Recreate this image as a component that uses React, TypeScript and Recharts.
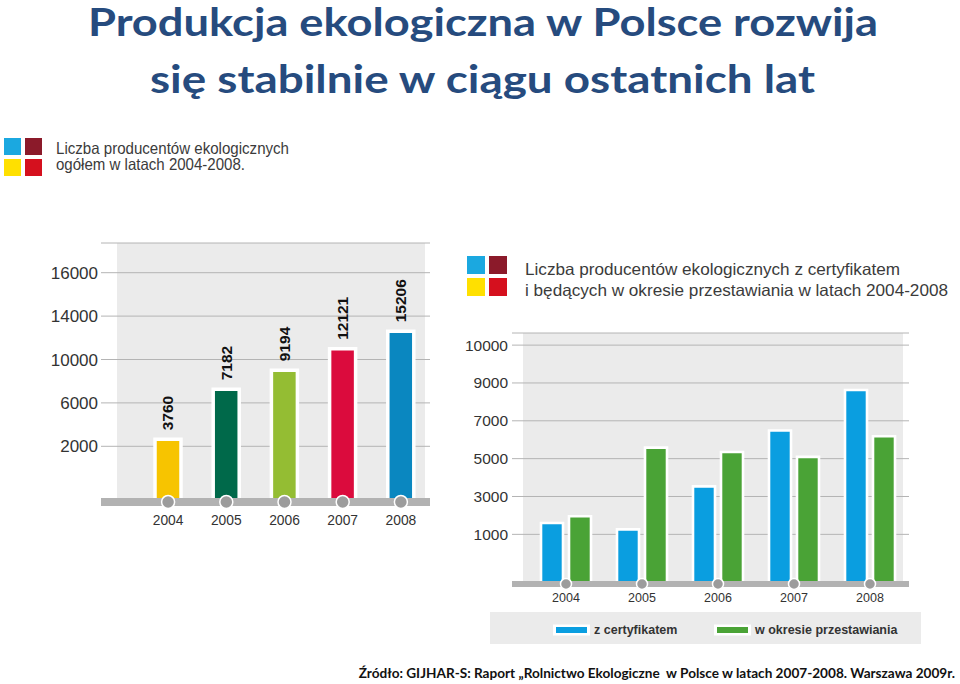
import React from 'react';
import { BarChart, Bar, XAxis, YAxis, CartesianGrid, Cell, LabelList } from 'recharts';

// values
const YEARS = ['2004', '2005', '2006', '2007', '2008'];
const TOTAL_PRODUCERS = [3760, 7182, 9194, 12121, 15206];
const CERTIFIED = [1600, 1260, 3530, 6490, 8630];
const IN_CONVERSION = [1950, 5580, 5350, 5090, 6180];

// tick labels exactly as printed (evenly spaced in the original)
const LEFT_TICK_LABELS = ['2000', '6000', '10000', '14000', '16000'];
const RIGHT_TICK_LABELS = ['1000', '3000', '5000', '7000', '9000', '10000'];

const SERIES = [
  { key: 'certified', name: 'z certyfikatem' },
  { key: 'conversion', name: 'w okresie przestawiania' },
];

// styles / layout
const LEFT_COLORS = ['#f7c400', '#00694a', '#94bd33', '#db0b3d', '#0a87c0'];
const SERIES_COLORS = ['#0a9ee0', '#4aa336'];
const ICON_COLORS = ['#1ba8e0', '#8b1a2a', '#ffe000', '#d5101e'];
const PANEL = '#ebebeb';
const GRID = '#b4b4b4';
const AXIS_BAR = '#b2b2b2';
const ARIAL = 'Arial, "Liberation Sans", sans-serif';
const LATO = 'Lato, "Open Sans", sans-serif';

// the left bars follow a compressed (log-like) scale in the original
const LEFT_DOMAIN = [1670, 47700];
const LEFT_GRID_DOMAIN = [-0.283, 5.684];
const RIGHT_FLOOR = -1628;
const RIGHT_DOMAIN = [RIGHT_FLOOR, 11640];
const RIGHT_GRID_DOMAIN = [-0.312, 6.32];

const leftData = YEARS.map((year, i) => ({ year, total: TOTAL_PRODUCERS[i] }));
const rightData = YEARS.map((year, i) => ({
  year,
  certified: CERTIFIED[i],
  conversion: IN_CONVERSION[i],
}));

function YearTick(props: any) {
  const { x, y, payload, r, dy, fontSize } = props;
  return (
    <g>
      <circle cx={x} cy={y} r={r} fill="#9c9c9c" stroke="#fff" strokeWidth={1.5} />
      <text x={x} y={y + dy} textAnchor="middle" fontSize={fontSize} fill="#333" fontFamily={ARIAL}>
        {payload.value}
      </text>
    </g>
  );
}

function ValueLabel(props: any) {
  const vb = props.viewBox || {};
  const x = props.x ?? vb.x;
  const y = props.y ?? vb.y;
  const width = props.width ?? vb.width;
  const cx = x + width / 2;
  const ty = y - 9;
  return (
    <text
      x={cx}
      y={ty}
      transform={`rotate(-90 ${cx} ${ty})`}
      textAnchor="start"
      dominantBaseline="central"
      fontSize={15.5}
      fontWeight="bold"
      fill="#111"
      fontFamily={ARIAL}
    >
      {props.value}
    </text>
  );
}

function Icon({ x, y, s, gap }: { x: number; y: number; s: number; gap: number }) {
  return (
    <g>
      <rect x={x} y={y} width={s} height={s} fill={ICON_COLORS[0]} />
      <rect x={x + s + gap} y={y} width={s} height={s} fill={ICON_COLORS[1]} />
      <rect x={x} y={y + s + gap} width={s} height={s} fill={ICON_COLORS[2]} />
      <rect x={x + s + gap} y={y + s + gap} width={s} height={s} fill={ICON_COLORS[3]} />
    </g>
  );
}

function Backdrop() {
  const legendX = [556, 717];
  const legendTextX = [594, 755];
  return (
    <svg width={960} height={684} style={{ position: 'absolute', left: 0, top: 0 }}>
      <text x={483} y={35.5} textAnchor="middle" fontFamily={LATO} fontWeight={700} fontSize={37.5}
        fill="#264b7e" textLength={790} lengthAdjust="spacingAndGlyphs">
        Produkcja ekologiczna w Polsce rozwija
      </text>
      <text x={482.5} y={93} textAnchor="middle" fontFamily={LATO} fontWeight={700} fontSize={37.5}
        fill="#264b7e" textLength={665} lengthAdjust="spacingAndGlyphs">
        się stabilnie w ciągu ostatnich lat
      </text>

      <Icon x={4} y={138} s={17} gap={4} />
      <text x={56} y={153.5} fontFamily={ARIAL} fontSize={16.5} fill="#3b3b3b" textLength={233} lengthAdjust="spacingAndGlyphs">
        Liczba producentów ekologicznych
      </text>
      <text x={56} y={170} fontFamily={ARIAL} fontSize={16.5} fill="#3b3b3b" textLength={189} lengthAdjust="spacingAndGlyphs">
        ogółem w latach 2004-2008.
      </text>

      <Icon x={467} y={256} s={18} gap={4} />
      <text x={525} y={275} fontFamily={ARIAL} fontSize={16.5} fill="#3b3b3b" textLength={375} lengthAdjust="spacingAndGlyphs">
        Liczba producentów ekologicznych z certyfikatem
      </text>
      <text x={525} y={295.5} fontFamily={ARIAL} fontSize={16.5} fill="#3b3b3b" textLength={423} lengthAdjust="spacingAndGlyphs">
        i będących w okresie przestawiania w latach 2004-2008
      </text>

      {/* chart panels */}
      <rect x={117} y={243} width={308} height={259} fill={PANEL} />
      <rect x={523} y={333} width={380} height={251} fill={PANEL} />

      {/* legend of the right chart */}
      <rect x={490} y={612} width={431} height={32} fill={PANEL} />
      {SERIES.map((s, i) => (
        <g key={s.key}>
          <rect x={legendX[i] - 3} y={624.5} width={37} height={11} fill="#fff" />
          <rect x={legendX[i]} y={627} width={31} height={6} fill={SERIES_COLORS[i]} />
          <text x={legendTextX[i]} y={633.5} fontFamily={ARIAL} fontWeight="bold" fontSize={12.5} fill="#333">
            {s.name}
          </text>
        </g>
      ))}
    </svg>
  );
}

export default function App() {
  return (
    <div style={{ position: 'absolute', left: 0, top: 0, width: 960, height: 684, background: '#fff', overflow: 'hidden' }}>
      <Backdrop />

      <div style={{ position: 'absolute', left: 0, top: 230 }}>
        <BarChart width={440} height={310} data={leftData} margin={{ top: 13, right: 10, left: 0, bottom: 8 }}>
          <CartesianGrid yAxisId="grid" vertical={false} stroke={GRID} />
          <YAxis
            yAxisId="grid"
            type="number"
            width={101}
            domain={LEFT_GRID_DOMAIN}
            allowDataOverflow
            ticks={LEFT_TICK_LABELS.map((_, i) => i + 1)}
            tickFormatter={(v: number) => LEFT_TICK_LABELS[v - 1]}
            axisLine={false}
            tickLine={false}
            tickSize={0}
            tickMargin={3}
            tick={{ fontSize: 17, fill: '#333', fontFamily: ARIAL }}
          />
          <YAxis yAxisId="val" hide type="number" scale="log" domain={LEFT_DOMAIN} allowDataOverflow />
          <Bar yAxisId="val" dataKey="total" barSize={26} stroke="#fff" strokeWidth={3.5} isAnimationActive={false}>
            {leftData.map((d, i) => (
              <Cell key={d.year} fill={LEFT_COLORS[i]} />
            ))}
            <LabelList dataKey="total" content={ValueLabel} />
          </Bar>
          <XAxis
            dataKey="year"
            height={30}
            interval={0}
            padding={{ left: 38, right: 0 }}
            axisLine={{ stroke: AXIS_BAR, strokeWidth: 8 }}
            tickLine={false}
            tickSize={0}
            tickMargin={0}
            tick={(p: any) => <YearTick {...p} r={6.5} dy={23} fontSize={13.8} />}
          />
        </BarChart>
      </div>

      <div style={{ position: 'absolute', left: 455, top: 320 }}>
        <BarChart width={470} height={300} data={rightData} margin={{ top: 13, right: 16, left: 0, bottom: 6 }} barGap={6}>
          <CartesianGrid yAxisId="grid" vertical={false} stroke={GRID} />
          <YAxis
            yAxisId="grid"
            type="number"
            width={57}
            domain={RIGHT_GRID_DOMAIN}
            allowDataOverflow
            ticks={RIGHT_TICK_LABELS.map((_, i) => i + 1)}
            tickFormatter={(v: number) => RIGHT_TICK_LABELS[v - 1]}
            axisLine={false}
            tickLine={false}
            tickSize={0}
            tickMargin={4}
            tick={{ fontSize: 15.5, fill: '#333', fontFamily: ARIAL }}
          />
          <YAxis yAxisId="val" hide type="number" domain={RIGHT_DOMAIN} allowDataOverflow />
          {SERIES.map((s, i) => (
            <Bar
              key={s.key}
              yAxisId="val"
              name={s.name}
              dataKey={(d: any) => [RIGHT_FLOOR, d[s.key]]}
              fill={SERIES_COLORS[i]}
              barSize={22}
              stroke="#fff"
              strokeWidth={2.6}
              isAnimationActive={false}
            />
          ))}
          <XAxis
            dataKey="year"
            height={30}
            interval={0}
            padding={{ left: 16, right: 1 }}
            axisLine={{ stroke: AXIS_BAR, strokeWidth: 6 }}
            tickLine={false}
            tickSize={0}
            tickMargin={0}
            tick={(p: any) => <YearTick {...p} r={5.5} dy={18} fontSize={12.5} />}
          />
        </BarChart>
      </div>

      <div
        style={{
          position: 'absolute',
          right: 5,
          top: 664.5,
          fontFamily: LATO,
          fontWeight: 700,
          fontSize: 13.6,
          lineHeight: '16px',
          color: '#111',
          whiteSpace: 'pre',
        }}
      >
        {'Źródło: GIJHAR-S: Raport „Rolnictwo Ekologiczne  w Polsce w latach 2007-2008. Warszawa 2009r.'}
      </div>
    </div>
  );
}
